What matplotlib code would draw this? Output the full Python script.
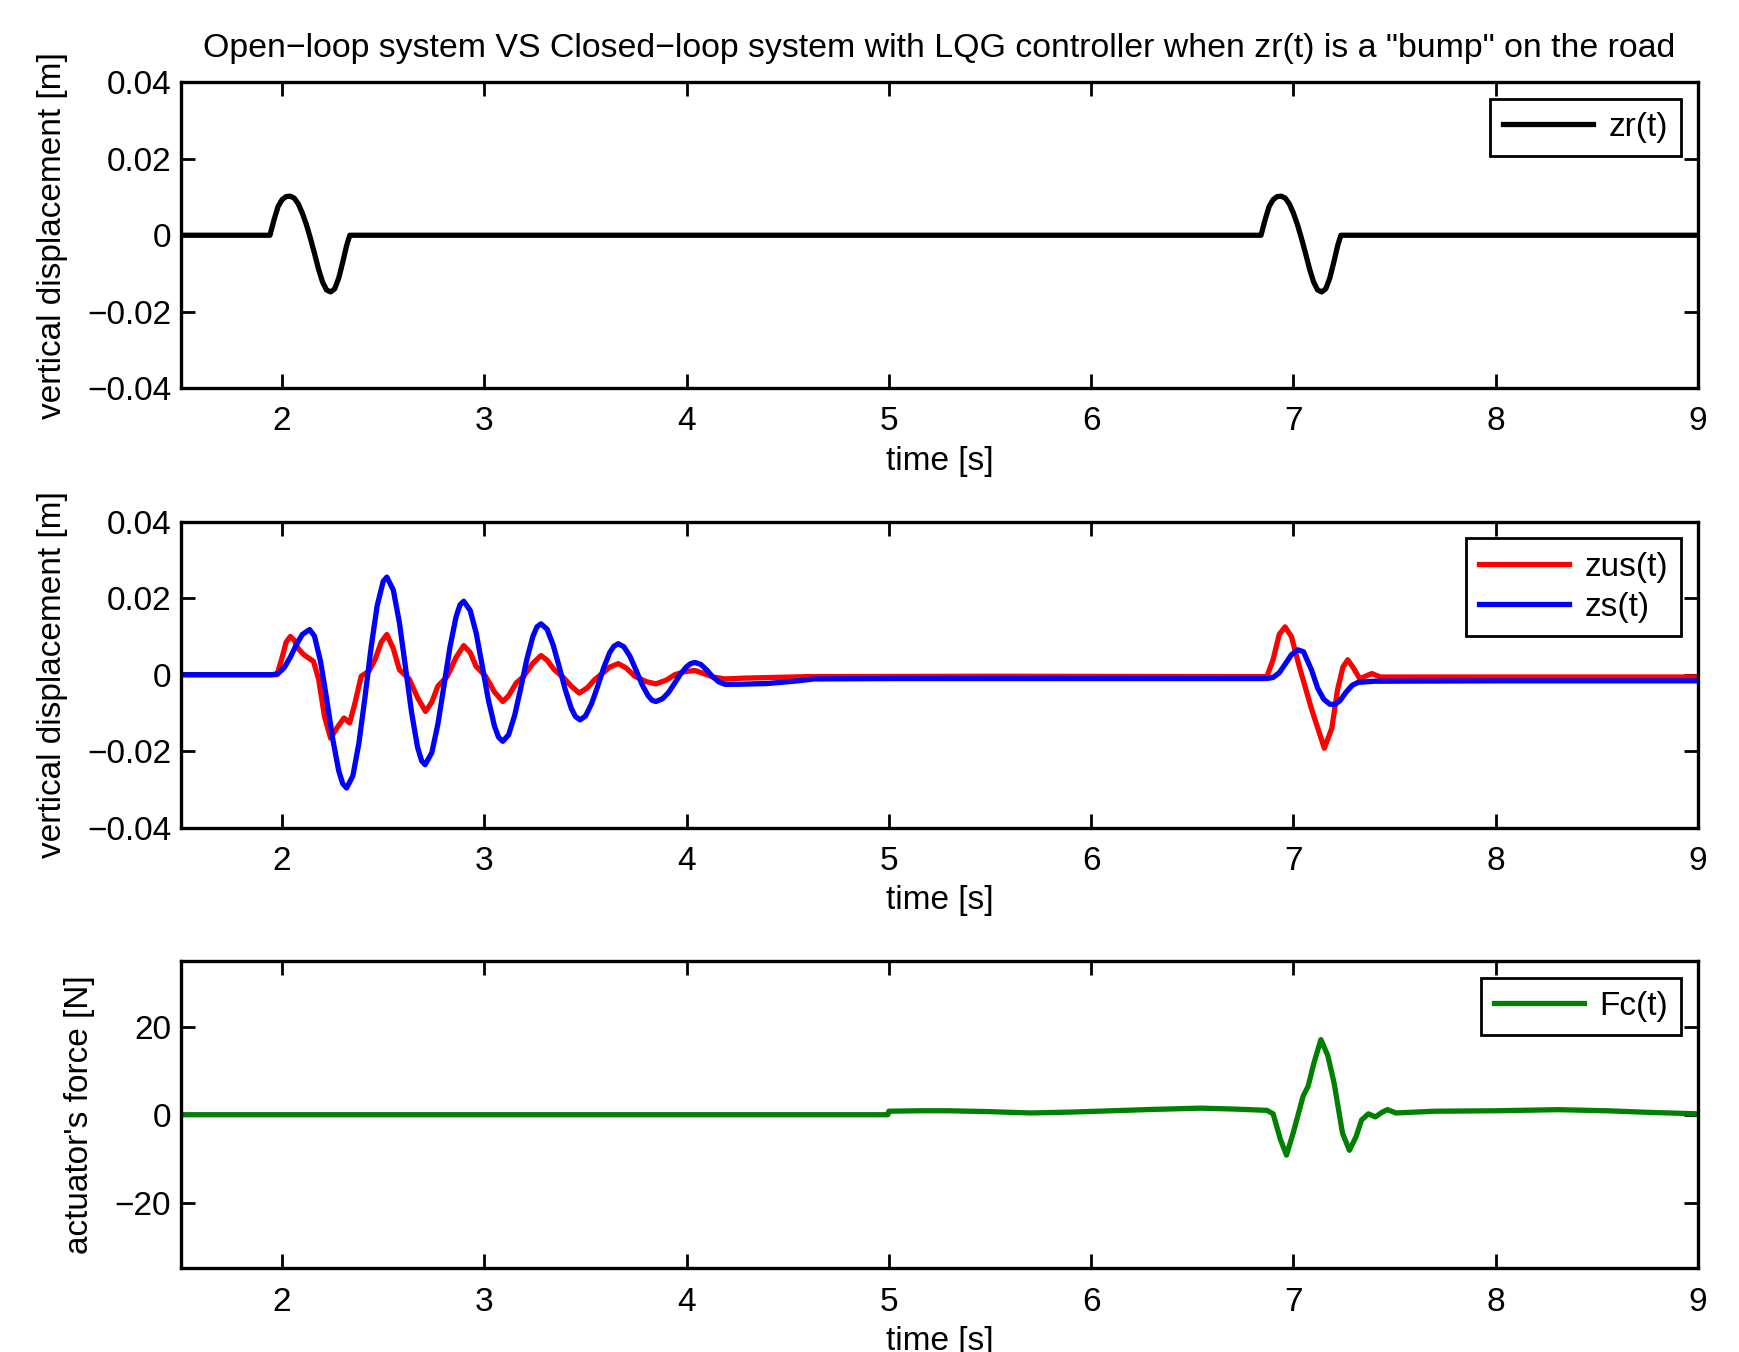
import matplotlib
matplotlib.use('Agg')
import matplotlib.pyplot as plt
import numpy as np


plt.rcParams['font.family'] = ['Liberation Sans', 'DejaVu Sans']
plt.rcParams['font.size'] = 12
plt.rcParams['axes.unicode_minus'] = True

# road profile zr(t): one "bump", repeated at two start times
bump_starts = [1.94, 6.84]
bump_dt = [0.0, 0.02, 0.04, 0.06, 0.08, 0.10, 0.12, 0.14, 0.16, 0.18, 0.20,
           0.22, 0.24, 0.26, 0.28, 0.30, 0.32, 0.34, 0.36, 0.38, 0.395]
bump_zr = [0.0, 0.0040, 0.0075, 0.0093, 0.0101, 0.0102, 0.0097, 0.0082, 0.0058,
           0.0028, -0.0008, -0.0047, -0.0088, -0.0122, -0.0143, -0.0148,
           -0.0140, -0.0112, -0.0070, -0.0025, 0.0]

# sprung mass zs(t)
t_zs = [1.50, 1.95, 1.98, 2.01, 2.04, 2.07, 2.10, 2.136, 2.16, 2.19, 2.22, 2.25,
        2.28, 2.30, 2.319, 2.35, 2.38, 2.41, 2.44, 2.47, 2.50, 2.518, 2.55, 2.58,
        2.61, 2.64, 2.67, 2.69, 2.707, 2.74, 2.77, 2.80, 2.83, 2.86, 2.88, 2.898,
        2.93, 2.96, 2.99, 3.02, 3.05, 3.07, 3.091, 3.12, 3.15, 3.18, 3.21, 3.24,
        3.26, 3.28, 3.31, 3.34, 3.37, 3.40, 3.43, 3.45, 3.473, 3.50, 3.53, 3.56,
        3.59, 3.62, 3.64, 3.662, 3.69, 3.72, 3.75, 3.78, 3.81, 3.83, 3.848, 3.88,
        3.91, 3.94, 3.97, 4.00, 4.02, 4.041, 4.07, 4.10, 4.13, 4.16, 4.19, 4.25,
        4.40, 4.55, 4.63, 5.00, 6.00, 6.87, 6.90, 6.93, 6.96, 6.99, 7.022, 7.05,
        7.09, 7.12, 7.15, 7.18, 7.204, 7.23, 7.26, 7.29, 7.32, 7.40, 8.00, 9.00]
zs = [0.0, 0.0, 0.0003, 0.0018, 0.0045, 0.0078, 0.0105, 0.0118, 0.0101, 0.0035,
      -0.0062, -0.0167, -0.0251, -0.0285, -0.0296, -0.0264, -0.0178, -0.0058,
      0.0071, 0.0180, 0.0244, 0.0255, 0.0221, 0.0136, 0.0020, -0.0098, -0.0190,
      -0.0225, -0.0235, -0.0204, -0.0130, -0.0030, 0.0072, 0.0151, 0.0183,
      0.0192, 0.0168, 0.0108, 0.0022, -0.0066, -0.0134, -0.0163, -0.0174,
      -0.0157, -0.0106, -0.0035, 0.0040, 0.0100, 0.0125, 0.0133, 0.0119, 0.0078,
      0.0021, -0.0039, -0.0088, -0.0109, -0.0118, -0.0108, -0.0076, -0.0031,
      0.0018, 0.0058, 0.0074, 0.0081, 0.0073, 0.0048, 0.0012, -0.0026, -0.0055,
      -0.0067, -0.0070, -0.0063, -0.0047, -0.0023, 0.0002, 0.0021, 0.0029,
      0.0032, 0.0027, 0.0012, -0.0006, -0.0019, -0.0025, -0.0025, -0.0023,
      -0.0016, -0.0011, -0.0010, -0.0010, -0.0010, -0.0007, 0.0005, 0.0028,
      0.0052, 0.0065, 0.0060, 0.0012, -0.0035, -0.0064, -0.0077, -0.0078,
      -0.0068, -0.0046, -0.0028, -0.0020, -0.0017, -0.0016, -0.0016]

# unsprung mass zus(t)
t_zus = [1.50, 1.975, 2.00, 2.02, 2.041, 2.06, 2.08, 2.108, 2.155, 2.18, 2.21,
         2.240, 2.27, 2.306, 2.334, 2.36, 2.391, 2.429, 2.46, 2.49, 2.518, 2.55,
         2.580, 2.628, 2.67, 2.709, 2.74, 2.770, 2.817, 2.86, 2.898, 2.93, 2.959,
         3.006, 3.05, 3.091, 3.12, 3.157, 3.195, 3.24, 3.280, 3.31, 3.346,
         3.394, 3.43, 3.469, 3.51, 3.545, 3.583, 3.62, 3.662, 3.70, 3.744, 3.80,
         3.848, 3.90, 3.942, 3.99, 4.041, 4.09, 4.131, 4.188, 4.28, 4.60, 5.50,
         6.869, 6.90, 6.93, 6.959, 6.99, 7.03, 7.09, 7.153, 7.19, 7.218, 7.245,
         7.269, 7.30, 7.329, 7.36, 7.388, 7.43, 8.00, 9.00]
zus = [0.0, 0.0, 0.0045, 0.0085, 0.0100, 0.0090, 0.0068, 0.0052, 0.0035,
       -0.0010, -0.0110, -0.0166, -0.0140, -0.0113, -0.0126, -0.0075, -0.0004,
       0.0009, 0.0040, 0.0085, 0.0105, 0.0068, 0.0013, -0.0011, -0.0060,
       -0.0096, -0.0072, -0.0030, -0.0004, 0.0045, 0.0076, 0.0058, 0.0022,
       -0.0004, -0.0045, -0.0070, -0.0055, -0.0022, -0.0004, 0.0030, 0.0050,
       0.0038, 0.0013, -0.0009, -0.0030, -0.0048, -0.0034, -0.0013, 0.0003,
       0.0020, 0.0029, 0.0018, -0.0004, -0.0018, -0.0024, -0.0014, 0.0,
       0.0008, 0.0011, 0.0002, -0.0006, -0.0011, -0.0009, -0.0005, -0.0004,
       -0.0005, 0.0040, 0.0105, 0.0125, 0.0100, 0.0020, -0.0090, -0.0192,
       -0.0140, -0.0040, 0.0020, 0.0039, 0.0015, -0.0011, -0.0003, 0.0003,
       -0.0006, -0.0006, -0.0006]

# actuator force Fc(t)
t_fc = [1.50, 4.995, 5.00, 5.15, 5.30, 5.50, 5.70, 5.90, 6.10, 6.30, 6.54,
        6.70, 6.869, 6.90, 6.935, 6.966, 7.00, 7.048, 7.073, 7.10, 7.136, 7.17,
        7.201, 7.243, 7.277, 7.31, 7.337, 7.371, 7.405, 7.44, 7.465, 7.507,
        7.70, 8.00, 8.31, 8.55, 8.75, 9.00]
fc = [0.0, 0.0, 0.8, 0.9, 0.9, 0.7, 0.4, 0.6, 0.9, 1.2, 1.5, 1.3, 1.0, 0.2,
      -5.5, -9.2, -4.0, 4.2, 6.5, 11.5, 17.1, 13.5, 7.3, -4.2, -8.1, -5.0,
      -1.2, 0.2, -0.5, 0.6, 1.15, 0.4, 0.8, 0.9, 1.15, 0.9, 0.55, 0.2]

title = 'Open\u2212loop system VS Closed\u2212loop system with LQG controller when zr(t) is a "bump" on the road'

t_zr = [1.5]
zr = [0.0]
for s in bump_starts:
    t_zr += [s + d for d in bump_dt]
    zr += bump_zr
t_zr.append(9.0)
zr.append(0.0)

fig = plt.figure(figsize=(8.7, 6.76), dpi=200)
ax1 = fig.add_axes([0.104, 0.7127, 0.8718, 0.2266])
ax2 = fig.add_axes([0.104, 0.3877, 0.8718, 0.2265])
ax3 = fig.add_axes([0.104, 0.0618, 0.8718, 0.2274])

ax1.plot(t_zr, zr, color='k', lw=1.9, label='zr(t)')
ax2.plot(t_zus, zus, color='#ff0000', lw=1.9, label='zus(t)')
ax2.plot(t_zs, zs, color='#0000ff', lw=1.9, label='zs(t)')
ax3.plot(t_fc, fc, color='#008000', lw=1.9, label='Fc(t)')

for ax in (ax1, ax2):
    ax.set_ylim(-0.04, 0.04)
    ax.set_yticks([-0.04, -0.02, 0, 0.02, 0.04])
    ax.set_yticklabels(['\u22120.04', '\u22120.02', '0', '0.02', '0.04'])
    ax.set_ylabel('vertical displacement [m]', labelpad=7)
ax3.set_ylim(-35, 35)
ax3.set_yticks([-20, 0, 20])
ax3.set_yticklabels(['\u221220', '0', '20'])
ax3.set_ylabel("actuator's force [N]", labelpad=7)

for ax in (ax1, ax2, ax3):
    ax.set_xlim(1.5, 9)
    ax.set_xticks([2, 3, 4, 5, 6, 7, 8, 9])
    ax.set_xlabel('time [s]', labelpad=3)
    ax.tick_params(direction='in', top=True, right=True, length=5, width=1.0,
                   labelsize=12)
    ax.tick_params(axis='x', pad=6.5)
    ax.tick_params(axis='y', pad=3.5)
    for sp in ax.spines.values():
        sp.set_linewidth(1.2)
    leg = ax.legend(loc='upper right', handlelength=2.7, fancybox=False,
                    edgecolor='k', framealpha=1, borderaxespad=0.5,
                    borderpad=0.4, handletextpad=0.45, labelspacing=0.28)
    leg.get_frame().set_linewidth(1.0)

ax1.set_title(title, fontsize=12.2, pad=9)

fig.savefig('out.png', dpi=200)
